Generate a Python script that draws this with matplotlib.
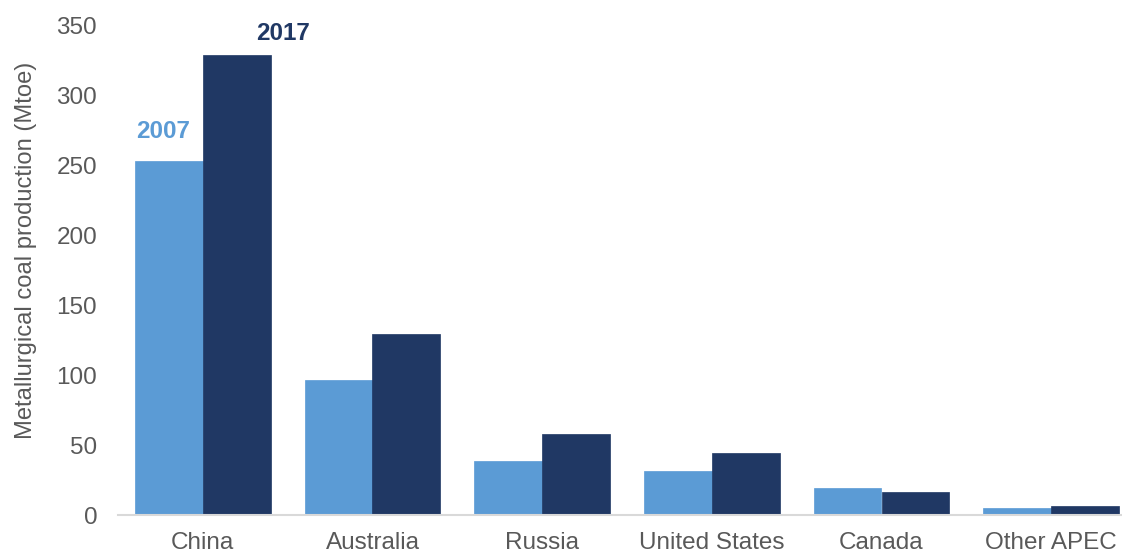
import matplotlib
matplotlib.use("Agg")
import matplotlib.pyplot as plt
import numpy as np

plt.rcParams['font.family'] = ['Liberation Sans', 'DejaVu Sans']

categories = ["China", "Australia", "Russia", "United States", "Canada", "Other APEC"]
values_2007 = [252.6, 96.4, 38.6, 31.7, 19.0, 5.0]
values_2017 = [328.6, 129.0, 58.0, 44.5, 16.2, 6.4]
series_labels = ["2007", "2017"]
y_ticks = [0, 50, 100, 150, 200, 250, 300, 350]

c_light = "#5B9BD5"
c_dark = "#203864"
text_grey = "#595959"
fs = 17.5

fig = plt.figure(figsize=(11.22, 5.54), dpi=100)
ax = fig.add_axes([118 / 1122, 39 / 554, 1018 / 1122, 490 / 554])

x = np.arange(len(categories))
w = 0.4
ax.bar(x - w / 2, values_2007, width=w, color=c_light, edgecolor=c_light, linewidth=0.5)
ax.bar(x + w / 2, values_2017, width=w, color=c_dark, edgecolor=c_dark, linewidth=0.5)

ax.set_xlim(-0.5, len(categories) - 0.5)
ax.set_ylim(0, 350)
ax.set_yticks(y_ticks)
ax.set_xticks(x)
ax.set_xticklabels(categories)
ax.tick_params(axis='both', length=0, labelsize=fs, colors=text_grey)
ax.tick_params(axis='y', pad=15)
ax.tick_params(axis='x', pad=12)

for side in ("top", "right", "left"):
    ax.spines[side].set_visible(False)
ax.spines["bottom"].set_color("#D9D9D9")
ax.spines["bottom"].set_linewidth(1.5)

ax.set_ylabel("Metallurgical coal production (Mtoe)", fontsize=17.1, color=text_grey)
ax.yaxis.set_label_coords(-0.080, 0.541)

# series names above the China bars
ax.text(x[0] - w / 2 - 0.035, values_2007[0] + 13, series_labels[0], color=c_light,
        fontsize=fs, fontweight='bold', ha='center', va='bottom')
ax.text(x[0] + w / 2 + 0.27, values_2017[0] + 7, series_labels[1], color=c_dark,
        fontsize=fs, fontweight='bold', ha='center', va='bottom')

fig.savefig("out.png", dpi=100)
